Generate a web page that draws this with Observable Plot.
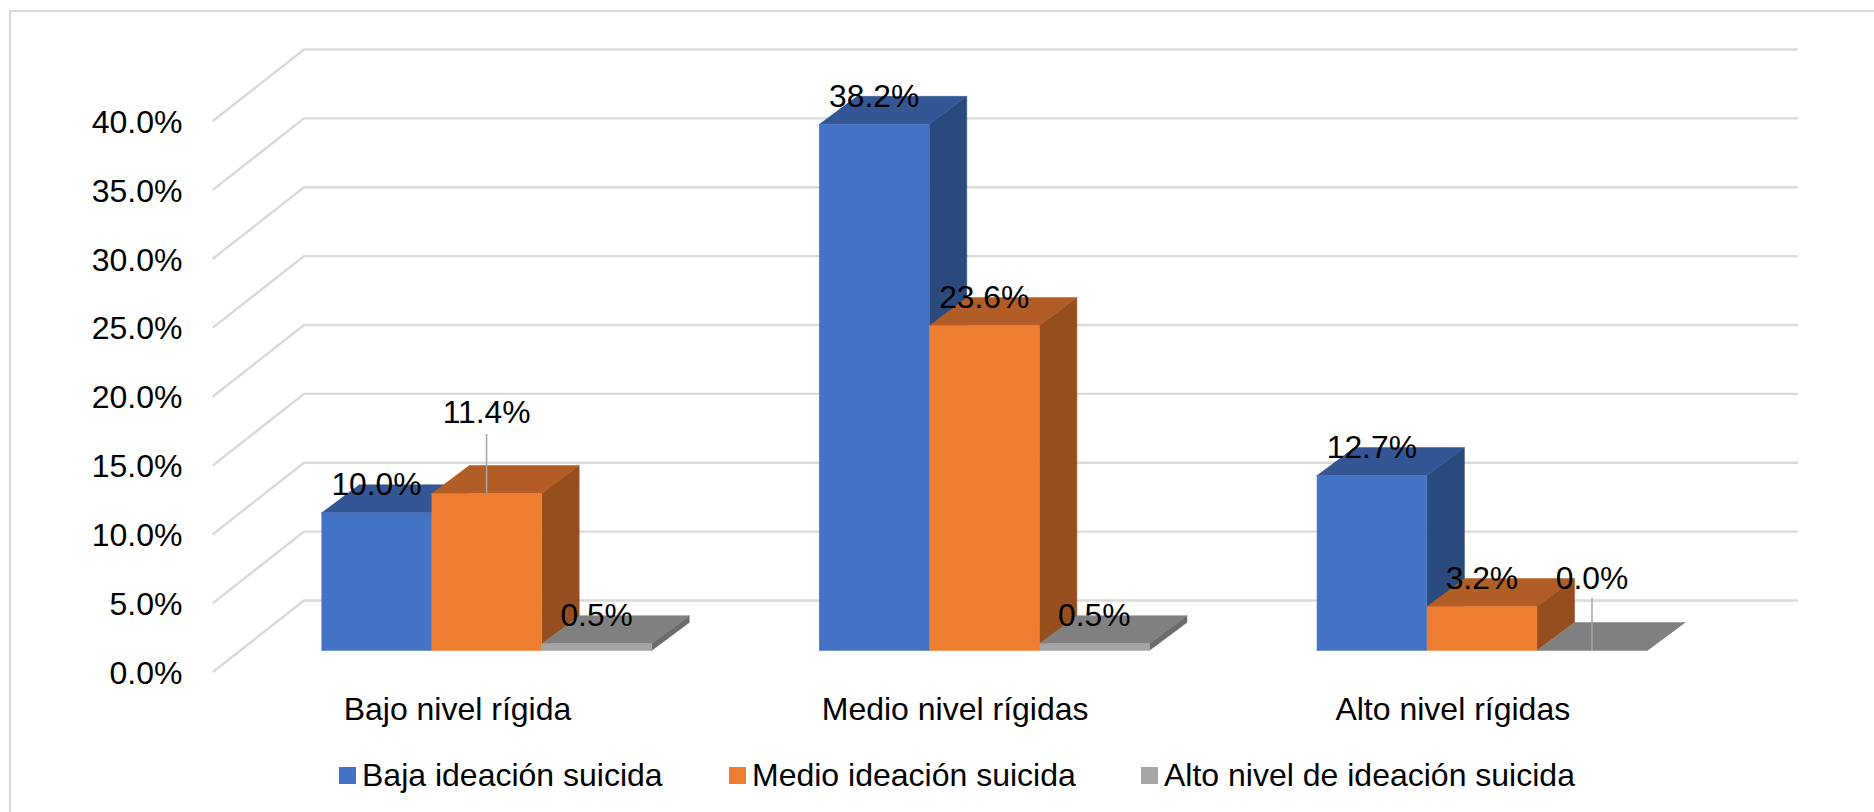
<!DOCTYPE html>
<html lang="es">
<head>
<meta charset="utf-8">
<title>Ideación suicida por nivel de rigidez</title>
<script src="https://cdn.jsdelivr.net/npm/d3@7"></script>
<script src="https://cdn.jsdelivr.net/npm/@observablehq/plot@0.6"></script>
<style>
  html, body { margin: 0; padding: 0; background: #fff; }
  body { position: relative; width: 1874px; height: 812px; overflow: hidden;
         font-family: "Liberation Sans", Arial, sans-serif; }
  #frame { position: absolute; left: 9px; top: 10px; right: 0; bottom: 0;
           border-left: 2px solid #d9d9d9; border-top: 2px solid #d9d9d9; }
  #chart { position: absolute; left: 0; top: 0; }
  #chart svg { display: block; background: transparent; }
  #legend { position: absolute; left: 0; top: 751px; width: 1874px; height: 48px;
            display: flex; align-items: center; font-size: 32px; color: #000; }
  #legend span.item { display: flex; align-items: center; position: absolute; white-space: nowrap; }
  #legend i { display: inline-block; width: 17px; height: 17px; margin-right: 6px; }
</style>
</head>
<body>
<div id="frame"></div>
<div id="chart"></div>
<div id="legend"></div>
<script>
// Percentages per rigidity level, one list per ideation series.
const categories = ["Bajo nivel rígida", "Medio nivel rígidas", "Alto nivel rígidas"];
const seriesNames = ["Baja ideación suicida", "Medio ideación suicida", "Alto nivel de ideación suicida"];
const bajaIdeacion = [10.0, 38.2, 12.7];
const medioIdeacion = [11.4, 23.6, 3.2];
const altoIdeacion = [0.5, 0.5, 0.0];
const yTicks = [0, 5, 10, 15, 20, 25, 30, 35, 40];

const seriesValues = [bajaIdeacion, medioIdeacion, altoIdeacion];
const shades = [
  {front: "#4472c4", top: "#345694", side: "#2a4a7e"},
  {front: "#ed7d31", top: "#b15d25", side: "#964e1e"},
  {front: "#a5a5a5", top: "#808080", side: "#6b6b6b"}
];
const legendOffsets = [339, 729, 1141];

// Oblique projection: depth is expressed in scale units on both axes.
const barWidth = 0.2212;
const barInset = 0.75 / 4.5;
const barDepth = {x: 0.0755, y: 2.03};
const frontWall = {x: -0.0502, y: -1.524};
const backWall = {x: 0.1316, y: 3.63};

// Three faces per bar, in painter's order, as vertex rows for Plot.line.
const faces = [];
categories.forEach((cat, i) => {
  seriesValues.forEach((values, j) => {
    const v = values[i];
    const x0 = i + barInset + j * barWidth;
    const x1 = x0 + barWidth;
    const d = barDepth;
    const polygon = (name, shade, pts) => pts.forEach(([x, y]) =>
      faces.push({id: `${i}-${j}-${name}`, shade, x, y}));
    polygon("side", shades[j].side, [[x1, 0], [x1 + d.x, d.y], [x1 + d.x, v + d.y], [x1, v]]);
    polygon("top", shades[j].top, [[x0, v], [x1, v], [x1 + d.x, v + d.y], [x0 + d.x, v + d.y]]);
    polygon("front", shades[j].front, [[x0, 0], [x1, 0], [x1, v], [x0, v]]);
  });
});

// Value labels; two of them stand clear of their bar on a leader line.
const leaders = {"0-1": {lift: 3.85, reach: 4.28}, "2-2": {lift: 3.19, reach: 3.77}};
const labels = categories.flatMap((cat, i) => seriesValues.map((values, j) => {
  const leader = leaders[`${i}-${j}`];
  return {
    x: i + barInset + (j + 0.5) * barWidth,
    v: values[i],
    y: values[i] + (leader ? leader.lift : 0),
    reach: leader ? values[i] + leader.reach : null,
    text: values[i].toFixed(1) + "%"
  };
}));

// Back wall gridlines, each folding forward along the side wall.
const grid = yTicks.flatMap(t => [
  {t, x: frontWall.x, y: t + frontWall.y},
  {t, x: backWall.x, y: t + backWall.y},
  {t, x: categories.length + backWall.x, y: t + backWall.y}
]);

const plot = Plot.plot({
  width: 1874,
  height: 750,
  marginLeft: 238,
  marginRight: 143,
  marginTop: 20,
  marginBottom: 100,
  style: {fontFamily: '"Liberation Sans", Arial, sans-serif', background: "transparent", overflow: "visible"},
  x: {domain: [0, categories.length], range: [238, 1731], axis: null},
  y: {domain: [0, 40], range: [650, 99], label: null},
  marks: [
    Plot.line(grid, {x: "x", y: "y", z: "t", stroke: "#dadada", strokeWidth: 2.4}),
    Plot.line(faces, {x: "x", y: "y", z: "id", fill: "shade", stroke: "shade", strokeWidth: 0.5}),
    Plot.axisY({
      ticks: yTicks,
      tickSize: 0,
      tickPadding: 56,
      dy: 23,
      fontSize: 32,
      fill: "#000",
      label: null,
      tickFormat: d => d.toFixed(1) + "%"
    }),
    Plot.text(categories, {
      x: (d, i) => i + 0.5 - 0.06,
      y: () => -4.3,
      text: d => d,
      fontSize: 32,
      fill: "#000"
    }),
    Plot.ruleX(labels.filter(d => d.reach !== null), {x: "x", y1: "v", y2: "reach", stroke: "#a6a6a6", strokeWidth: 1.5}),
    Plot.text(labels, {x: "x", y: "y", text: "text", dy: -27.5, fontSize: 31.8, fill: "#000"})
  ]
});
document.getElementById("chart").append(plot);

// Series key beneath the chart.
const legend = document.getElementById("legend");
seriesNames.forEach((name, j) => {
  const item = document.createElement("span");
  item.className = "item";
  item.style.left = legendOffsets[j] + "px";
  const swatch = document.createElement("i");
  swatch.style.background = shades[j].front;
  item.append(swatch, name);
  legend.append(item);
});
</script>
</body>
</html>
